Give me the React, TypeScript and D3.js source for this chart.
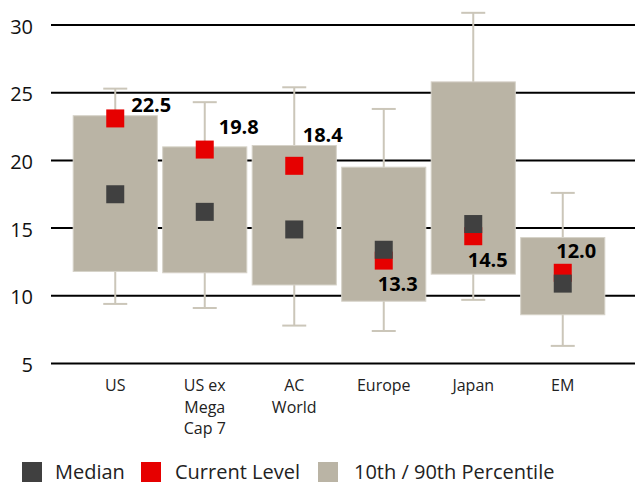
import * as d3 from "d3";

const categories = ["US", "US ex Mega Cap 7", "AC World", "Europe", "Japan", "EM"];
const categoryLines = [["US"], ["US ex", "Mega", "Cap 7"], ["AC", "World"], ["Europe"], ["Japan"], ["EM"]];

// 10th / 90th percentile box and whisker ends
const p10 = [11.8, 11.7, 10.8, 9.6, 11.6, 8.6];
const p90 = [23.3, 21.0, 21.1, 19.5, 25.8, 14.3];
const whiskerLow = [9.4, 9.1, 7.8, 7.4, 9.7, 6.3];
const whiskerHigh = [25.3, 24.3, 25.4, 23.8, 30.9, 17.6];

const median = [17.5, 16.2, 14.9, 13.4, 15.3, 10.9];
const currentLevel = [23.1, 20.8, 19.6, 12.6, 14.4, 11.7];
const currentLabels = ["22.5", "19.8", "18.4", "13.3", "14.5", "12.0"];

const yTicks = [5, 10, 15, 20, 25, 30];

// label placement relative to the red marker (px)
const labelOffsets: [number, number][] = [[16, -6], [14, -16], [8.5, -24], [-6, 30], [-5.5, 31], [-6.5, -15]];

const W = 635;
const H = 484;
const FONT = "'Open Sans', 'Noto Sans', sans-serif";

const BOX = "#bab4a5";
const WHISKER = "#cbc6b9";
const MEDIAN = "#404040";
const CURRENT = "#e60000";
const SQ = 18;

export default function App() {
  const x = d3.scaleBand<string>()
    .domain(categories)
    .range([70.5, 607.5])
    .paddingInner(0.06)
    .paddingOuter(0.03);

  const y = d3.scaleLinear().domain([5, 30]).range([363.5, 25]);

  const bw = x.bandwidth();

  return (
    <div style={{ position: "absolute", left: 0, top: 0 }}>
      <svg width={W} height={H} style={{ display: "block", fontFamily: FONT }}>
        <rect width={W} height={H} fill="#fff" />

        {/* grid */}
        {yTicks.map(t => (
          <g key={t}>
            <line x1={51} x2={635} y1={y(t)} y2={y(t)} stroke="#000" strokeWidth={2} />
            <text x={33} y={y(t) + 8.5} textAnchor="end" fontSize={20} fill="#111">{t}</text>
          </g>
        ))}

        {categories.map((c, i) => {
          const cx = x(c)! + bw / 2;
          return (
            <g key={c}>
              {/* whiskers */}
              <line x1={cx} x2={cx} y1={y(whiskerHigh[i])} y2={y(whiskerLow[i])} stroke={WHISKER} strokeWidth={2} />
              <line x1={cx - 12} x2={cx + 12} y1={y(whiskerHigh[i])} y2={y(whiskerHigh[i])} stroke={WHISKER} strokeWidth={2} />
              <line x1={cx - 12} x2={cx + 12} y1={y(whiskerLow[i])} y2={y(whiskerLow[i])} stroke={WHISKER} strokeWidth={2} />
              {/* box */}
              <rect
                x={x(c)}
                y={y(p90[i])}
                width={bw}
                height={y(p10[i]) - y(p90[i])}
                fill={BOX}
                stroke="#d6d2c8"
                strokeWidth={1}
              />
            </g>
          );
        })}

        {categories.map((c, i) => {
          const cx = x(c)! + bw / 2;
          const cy = y(currentLevel[i]);
          const [dx, dy] = labelOffsets[i];
          return (
            <g key={c + "-m"}>
              <rect x={cx - SQ / 2} y={cy - SQ / 2} width={SQ} height={SQ} fill={CURRENT} />
              <rect x={cx - SQ / 2} y={y(median[i]) - SQ / 2} width={SQ} height={SQ} fill={MEDIAN} />
              <text x={cx + dx} y={cy + dy} fontSize={20} fontWeight={700} fill="#000">{currentLabels[i]}</text>
            </g>
          );
        })}

        {/* category labels */}
        {categories.map((c, i) => (
          <text key={c + "-l"} x={x(c)! + bw / 2} y={391} textAnchor="middle" fontSize={16} fill="#222">
            {categoryLines[i].map((ln, j) => (
              <tspan key={j} x={x(c)! + bw / 2} dy={j === 0 ? 0 : 21.7}>{ln}</tspan>
            ))}
          </text>
        ))}

        {/* legend */}
        <g>
          <rect x={22} y={462} width={20} height={20} fill={MEDIAN} />
          <text x={55} y={479} fontSize={20} fill="#222">Median</text>
          <rect x={141} y={462} width={20} height={20} fill={CURRENT} />
          <text x={175} y={479} fontSize={20} fill="#222">Current Level</text>
          <rect x={318} y={462} width={20} height={20} fill={BOX} />
          <text x={354} y={479} fontSize={20} fill="#222">10th / 90th Percentile</text>
        </g>
      </svg>
    </div>
  );
}
